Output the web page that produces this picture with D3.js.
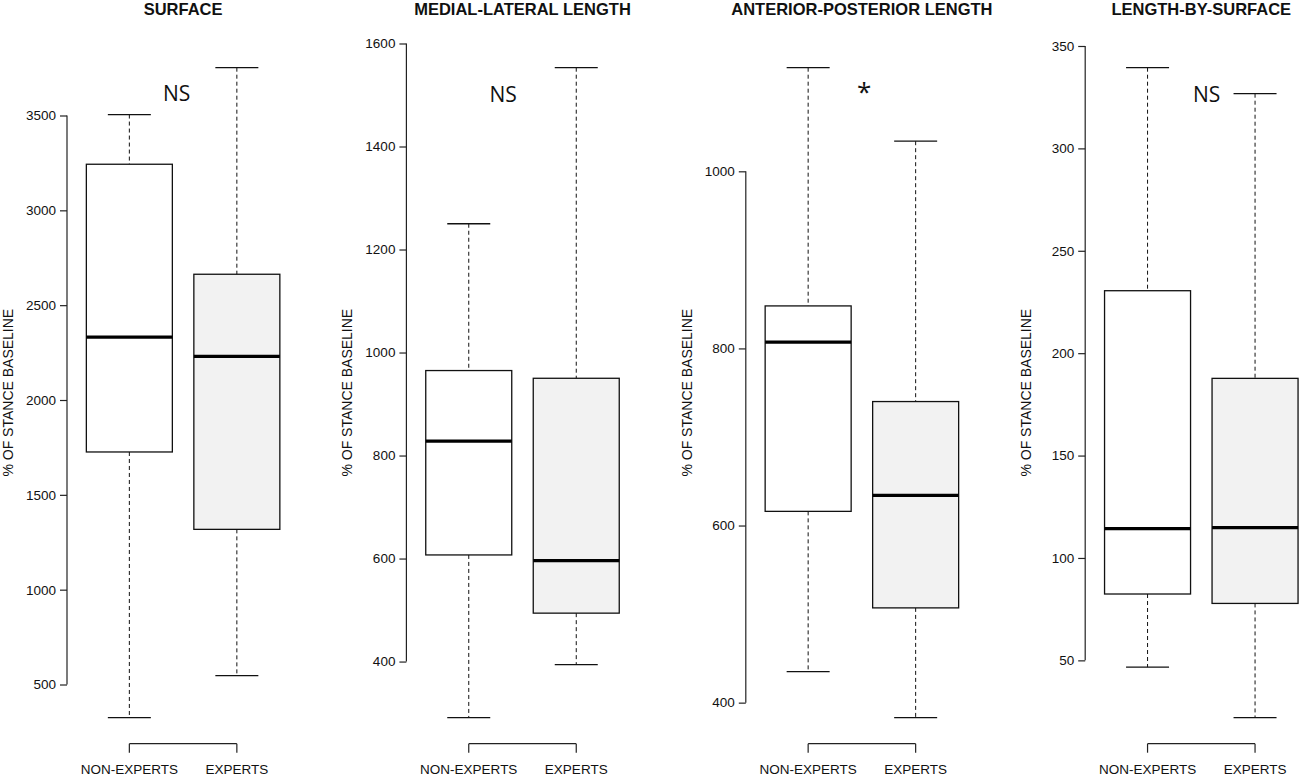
<!DOCTYPE html>
<html>
<head>
<meta charset="utf-8">
<script src="https://cdn.jsdelivr.net/npm/d3@7"></script>
<style>
  body { margin: 0; background: #fff; }
  text { font-family: "Liberation Sans", Arial, sans-serif; fill: #111; }
</style>
</head>
<body>
<script>
var width = 1300;
var height = 776;

var categories = ["NON-EXPERTS", "EXPERTS"];
var titles = ["SURFACE", "MEDIAL-LATERAL LENGTH", "ANTERIOR-POSTERIOR LENGTH", "LENGTH-BY-SURFACE"];

// [min, q1, median, q3, max] for non-experts then experts
var surfaceStats = [[325, 1726, 2332, 3243, 3505], [547, 1318, 2230, 2663, 3752]];
var medialLateralStats = [[291, 607, 828, 965, 1250], [394, 494, 596, 950, 1553]];
var anteriorPosteriorStats = [[435, 616, 807, 848, 1117], [383, 507, 634, 740, 1034]];
var lengthBySurfaceStats = [[46.7, 82.4, 114.3, 230.5, 339.4], [22, 77.8, 114.8, 187.7, 326.7]];

var surfaceTicks = [500, 1000, 1500, 2000, 2500, 3000, 3500];
var medialLateralTicks = [400, 600, 800, 1000, 1200, 1400, 1600];
var anteriorPosteriorTicks = [400, 600, 800, 1000];
var lengthBySurfaceTicks = [50, 100, 150, 200, 250, 300, 350];

var significance = ["NS", "NS", "*", "NS"];
// where the significance mark sits, in group units
var markX = [1.44, 1.32, 1.52, 1.55];

var yLabel = "% OF STANCE BASELINE";

var panelStats = [surfaceStats, medialLateralStats, anteriorPosteriorStats, lengthBySurfaceStats];
var panelTicks = [surfaceTicks, medialLateralTicks, anteriorPosteriorTicks, lengthBySurfaceTicks];
var fills = ["#ffffff", "#f2f2f2"];

var plotTop = 41.7;
var plotBottom = 743.7;
var panelStep = 339.4;
var panelWidth = 232.2;

var svg = d3.select('body').append('svg').attr('width', width).attr('height', height);

var drawPanel = function(i) {
  var stats = panelStats[i];
  var left = 67 + i * panelStep;
  var g = svg.append('g');

  var all = d3.merge(stats);
  var lo = d3.min(all), hi = d3.max(all);
  var pad = (hi - lo) * 0.04;
  var y = d3.scaleLinear().domain([lo - pad, hi + pad]).range([plotBottom, plotTop]);
  var x = d3.scaleLinear().domain([0.42, 2.58]).range([left, left + panelWidth]);

  // y axis, R style: line spans first to last tick
  var ticks = panelTicks[i];
  var yAxis = d3.axisLeft(y).tickValues(ticks).tickSize(7).tickPadding(4).tickFormat(d3.format('d'));
  var ya = g.append('g').attr('transform', 'translate(' + left + ',0)').call(yAxis);
  ya.select('.domain').remove();
  ya.append('line')
    .attr('x1', 0).attr('x2', 0)
    .attr('y1', y(ticks[0])).attr('y2', y(ticks[ticks.length - 1]))
    .attr('stroke', '#222').attr('stroke-width', 1.2);
  ya.selectAll('.tick line').attr('stroke', '#222').attr('stroke-width', 1.2);
  ya.selectAll('.tick text').style('font-size', '13.5px').style('font-family', '"Liberation Sans", Arial, sans-serif').attr('fill', '#111');

  // x axis bracket
  var xa = g.append('g').attr('transform', 'translate(0,' + plotBottom + ')');
  xa.append('line')
    .attr('x1', x(1)).attr('x2', x(2)).attr('y1', 0).attr('y2', 0)
    .attr('stroke', '#222').attr('stroke-width', 1.2);
  xa.selectAll('.xt').data(categories).enter().append('line')
    .attr('x1', function(d, j) { return x(j + 1); })
    .attr('x2', function(d, j) { return x(j + 1); })
    .attr('y1', 0).attr('y2', 9)
    .attr('stroke', '#222').attr('stroke-width', 1.2);
  xa.selectAll('.xl').data(categories).enter().append('text')
    .attr('x', function(d, j) { return x(j + 1); })
    .attr('y', 30.5)
    .attr('text-anchor', 'middle')
    .style('font-size', '13.5px')
    .text(function(d) { return d; });

  var boxes = g.selectAll('.box').data(stats).enter().append('g');

  // whiskers
  boxes.append('line')
    .attr('x1', function(d, j) { return x(j + 1); })
    .attr('x2', function(d, j) { return x(j + 1); })
    .attr('y1', function(d) { return y(d[4]); })
    .attr('y2', function(d) { return y(d[3]); })
    .attr('stroke', '#111').attr('stroke-width', 1).attr('stroke-dasharray', '4,3');
  boxes.append('line')
    .attr('x1', function(d, j) { return x(j + 1); })
    .attr('x2', function(d, j) { return x(j + 1); })
    .attr('y1', function(d) { return y(d[1]); })
    .attr('y2', function(d) { return y(d[0]); })
    .attr('stroke', '#111').attr('stroke-width', 1).attr('stroke-dasharray', '4,3');

  // staples
  [0, 4].forEach(function(k) {
    boxes.append('line')
      .attr('x1', function(d, j) { return x(j + 1 - 0.2); })
      .attr('x2', function(d, j) { return x(j + 1 + 0.2); })
      .attr('y1', function(d) { return y(d[k]); })
      .attr('y2', function(d) { return y(d[k]); })
      .attr('stroke', '#111').attr('stroke-width', 1.3);
  });

  boxes.append('rect')
    .attr('x', function(d, j) { return x(j + 1 - 0.4); })
    .attr('width', function(d, j) { return x(j + 1.4) - x(j + 0.6); })
    .attr('y', function(d) { return y(d[3]); })
    .attr('height', function(d) { return y(d[1]) - y(d[3]); })
    .attr('fill', function(d, j) { return fills[j]; })
    .attr('stroke', '#111').attr('stroke-width', 1.3);

  boxes.append('line')
    .attr('x1', function(d, j) { return x(j + 1 - 0.4); })
    .attr('x2', function(d, j) { return x(j + 1 + 0.4); })
    .attr('y1', function(d) { return y(d[2]); })
    .attr('y2', function(d) { return y(d[2]); })
    .attr('stroke', '#000').attr('stroke-width', 3.2);

  // title and y label
  var mid = (plotTop + plotBottom) / 2;
  g.append('text')
    .attr('x', x(1.5)).attr('y', 14.5)
    .attr('text-anchor', 'middle')
    .style('font-size', '16.5px').style('font-weight', 'bold')
    .text(titles[i]);
  g.append('text')
    .attr('transform', 'translate(' + (left - 54) + ',' + mid + ') rotate(-90)')
    .attr('text-anchor', 'middle')
    .style('font-size', '14px')
    .text(yLabel);

  // significance mark
  if (significance[i] === '*') {
    g.append('text')
      .attr('x', x(markX[i])).attr('y', 101)
      .attr('text-anchor', 'middle')
      .style('font-family', '"Open Sans", "Noto Sans", sans-serif')
      .style('font-size', '26px')
      .text(significance[i]);
  } else {
    g.append('text')
      .attr('x', x(markX[i])).attr('y', i === 0 ? 101 : 102)
      .attr('text-anchor', 'middle')
      .style('font-family', '"Open Sans", "Noto Sans", sans-serif')
      .style('font-size', '21px')
      .text(significance[i]);
  }
};

d3.range(titles.length).forEach(drawPanel);
</script>
</body>
</html>
